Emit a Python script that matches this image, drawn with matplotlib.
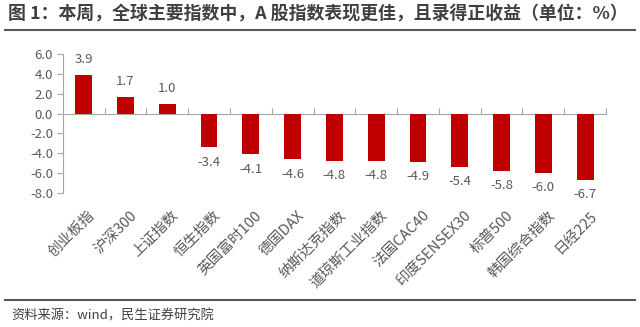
import matplotlib
matplotlib.use("Agg")
import matplotlib.pyplot as plt
from matplotlib.lines import Line2D

plt.rcParams['font.family'] = ['Noto Sans CJK SC', 'DejaVu Sans']

# 数据
categories = ["创业板指", "沪深300", "上证指数", "恒生指数", "英国富时100", "德国DAX",
              "纳斯达克指数", "道琼斯工业指数", "法国CAC40", "印度SENSEX30", "标普500",
              "韩国综合指数", "日经225"]
values = [3.9, 1.7, 1.0, -3.4, -4.1, -4.6, -4.8, -4.8, -4.9, -5.4, -5.8, -6.0, -6.7]
yticks = [6.0, 4.0, 2.0, 0.0, -2.0, -4.0, -6.0, -8.0]

title = "图 1：本周，全球主要指数中，A 股指数表现更佳，且录得正收益（单位：%）"
source = "资料来源：wind，民生证券研究院"

bar_color = "#C00000"
text_gray = "#595959"
axis_gray = "#A6A6A6"

fig = plt.figure(figsize=(6.4, 3.27), dpi=100)
ax = fig.add_axes([0.098, 0.41, 0.849, 0.425])

x = list(range(len(categories)))
ax.bar(x, values, width=0.4, color=bar_color, zorder=3)

ax.set_xlim(-0.5, len(categories) - 0.5)
ax.set_ylim(-8.0, 6.0)
ax.set_yticks(yticks)
ax.set_yticklabels([f"{v:.1f}" for v in yticks], color=text_gray, fontsize=9.5)

for s in ["top", "right"]:
    ax.spines[s].set_visible(False)
ax.spines["left"].set_color(axis_gray)
ax.spines["bottom"].set_color(axis_gray)
ax.spines["bottom"].set_position(("data", 0))
ax.tick_params(axis="y", direction="out", length=4, color=axis_gray, pad=3)

# x 轴刻度在类别边界
ax.set_xticks([i + 0.5 for i in x])
ax.set_xticklabels([])
ax.tick_params(axis="x", direction="in", length=4, color=axis_gray)

# 数值标签
for i, v in zip(x, values):
    if v >= 0:
        ax.annotate(f"{v:.1f}", (i, v), xytext=(0, 6), textcoords="offset points",
                    ha="center", va="bottom", color=text_gray, fontsize=9.5)
    else:
        ax.annotate(f"{v:.1f}", (i, v), xytext=(0, -6), textcoords="offset points",
                    ha="center", va="top", color=text_gray, fontsize=9.5)

# 类别标签（底部，45度）
for i, c in zip(x, categories):
    ax.annotate(c, (i + 0.1, -8.0), xytext=(0, -11), textcoords="offset points",
                ha="right", va="top", rotation=45, rotation_mode="anchor",
                color=text_gray, fontsize=10.5, annotation_clip=False)

# 标题与来源
fig.text(0.012, 0.955, title, fontsize=12.9, fontweight="bold", color="#404040",
         ha="left", va="center")
fig.add_artist(Line2D([0.008, 0.992], [0.907, 0.907], transform=fig.transFigure,
                      color="#595959", linewidth=1.5))
fig.add_artist(Line2D([0.008, 0.992], [0.083, 0.083], transform=fig.transFigure,
                      color="#595959", linewidth=1.5))
fig.text(0.018, 0.035, source, fontsize=9.5, color="#404040", ha="left", va="center")

fig.savefig("out.png", dpi=100)
